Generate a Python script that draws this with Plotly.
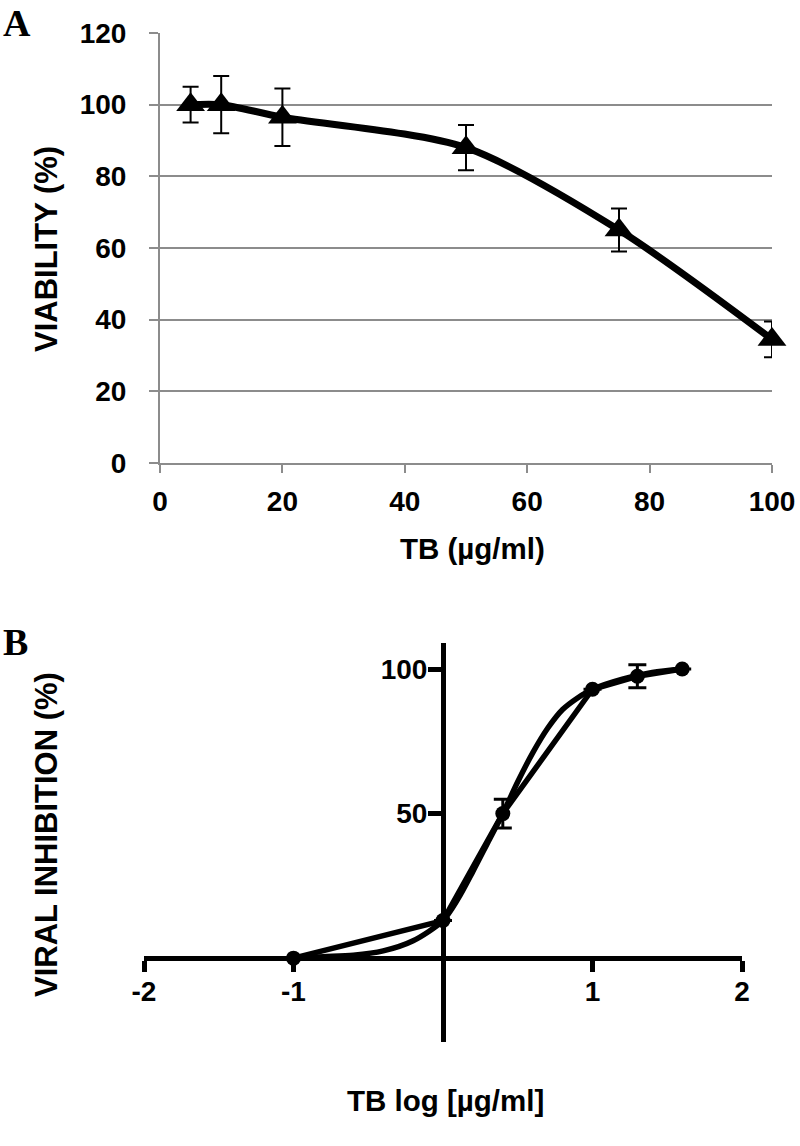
import plotly.graph_objects as go

# ---------------- data ----------------
# Panel A: viability vs TB concentration
conc_a = [5, 10, 20, 50, 75, 100]
viability = [100, 100, 96.5, 88, 65, 34.5]
viability_err = [5, 8, 8, 6.3, 6, 5]
a_xticks = [0, 20, 40, 60, 80, 100]
a_yticks = [0, 20, 40, 60, 80, 100, 120]

# Panel B: viral inhibition vs log TB
log_conc_b = [-1, 0, 0.4, 1.0, 1.3, 1.6]
inhibition = [0, 13, 50, 93, 97.5, 100]
inhibition_err = [0, 0, 5, 0, 4, 0]
# fitted sigmoid curve
fit_x = [-1, -0.8, -0.6, -0.4, -0.2, 0, 0.1, 0.2, 0.3, 0.4, 0.5, 0.6, 0.7, 0.8, 0.9, 1.0, 1.2, 1.4, 1.6]
fit_y = [0, 0.5, 1, 2.5, 6, 13, 20.5, 30, 40, 50, 61, 71, 79.5, 86, 90, 93, 96.5, 98.8, 100]
b_xticks = [-2, -1, 1, 2]
b_xticktext = ["-2", "-1", "1", "2"]
b_yticks = [50, 100]

W, H = 800, 1146
FONT = "Liberation Sans, Arial, sans-serif"
SERIF = "Liberation Serif, Times New Roman, serif"
GRAY = "#8c8c8c"


def px_x(p):
    return p / W


def px_y(p):
    return 1 - p / H


fig = go.Figure()

# Panel A
fig.add_trace(go.Scatter(
    x=conc_a, y=viability, mode="lines+markers",
    line=dict(color="black", width=7, shape="spline", smoothing=0.8),
    marker=dict(symbol="triangle-up", size=25, color="black"),
    error_y=dict(type="data", array=viability_err, visible=True,
                 color="black", thickness=2, width=8),
    cliponaxis=False, xaxis="x", yaxis="y", showlegend=False,
))

# Panel B: connecting line through data
fig.add_trace(go.Scatter(
    x=log_conc_b, y=inhibition, mode="lines+markers",
    line=dict(color="black", width=5.5),
    marker=dict(symbol="circle", size=15, color="black"),
    error_y=dict(type="data", array=inhibition_err, visible=True,
                 color="black", thickness=3, width=9),
    cliponaxis=False, xaxis="x2", yaxis="y2", showlegend=False,
))
# Panel B: fitted curve
fig.add_trace(go.Scatter(
    x=fit_x, y=fit_y, mode="lines",
    line=dict(color="black", width=5.5, shape="spline", smoothing=0.8),
    cliponaxis=False, xaxis="x2", yaxis="y2", showlegend=False,
))

tickfont = dict(family=FONT, size=28, color="black", weight="bold")

# B axis geometry
b_yrange = [-29, 109]
b_ydom = [px_y(1042), px_y(643)]
b_xdom = [px_x(144), px_x(742)]
b_xrange = [-2, 2]
x_at_zero = b_ydom[0] + (0 - b_yrange[0]) / (b_yrange[1] - b_yrange[0]) * (b_ydom[1] - b_ydom[0])
y_at_zero = b_xdom[0] + (0 - b_xrange[0]) / (b_xrange[1] - b_xrange[0]) * (b_xdom[1] - b_xdom[0])

fig.update_layout(
    width=W, height=H,
    margin=dict(l=0, r=0, t=0, b=0, autoexpand=False),
    paper_bgcolor="white", plot_bgcolor="white",
    showlegend=False,
    xaxis=dict(
        domain=[px_x(160), px_x(772)], range=[0, 100], anchor="y",
        tickvals=a_xticks, showgrid=False, zeroline=False, automargin=False,
        showline=True, linecolor=GRAY, linewidth=2,
        ticks="outside", ticklen=8, tickwidth=2, tickcolor=GRAY,
        tickfont=tickfont, ticklabelstandoff=4,
    ),
    yaxis=dict(
        domain=[px_y(463), px_y(33)], range=[0, 120], anchor="x",
        tickvals=a_yticks, showgrid=True, gridcolor=GRAY, gridwidth=2,
        zeroline=False, showline=True, linecolor=GRAY, linewidth=2, automargin=False,
        ticks="outside", ticklen=9, tickwidth=2, tickcolor=GRAY,
        tickfont=tickfont, ticklabelstandoff=17,
    ),
    xaxis2=dict(
        domain=b_xdom, range=b_xrange, anchor="free", position=x_at_zero,
        tickvals=b_xticks, ticktext=b_xticktext, showgrid=False, zeroline=False,
        showline=True, linecolor="black", linewidth=5, automargin=False,
        ticks="outside", ticklen=11, tickwidth=5, tickcolor="black",
        tickfont=tickfont, ticklabelstandoff=-5,
    ),
    yaxis2=dict(
        domain=b_ydom, range=b_yrange, anchor="free", position=y_at_zero,
        tickvals=b_yticks, showgrid=False, zeroline=False,
        showline=True, linecolor="black", linewidth=5, automargin=False,
        ticks="outside", ticklen=13, tickwidth=5, tickcolor="black",
        tickfont=tickfont, ticklabelstandoff=-5,
    ),
)

xtitlefont = dict(family=FONT, size=29.5, color="black", weight="bold")
ytitlefont = dict(family=FONT, size=31, color="black", weight="bold")
labelfont = dict(family=SERIF, size=38, color="black", weight="bold")
annotations = [
    dict(text="A", x=px_x(1), y=px_y(0), xanchor="left", yanchor="top", font=labelfont),
    dict(text="B", x=px_x(1), y=px_y(619), xanchor="left", yanchor="top", font=labelfont),
    dict(text="VIABILITY (%)", x=px_x(46), y=px_y(249), textangle=-90,
         xanchor="center", yanchor="middle", font=ytitlefont),
    dict(text="TB (µg/ml)", x=px_x(472), y=px_y(548),
         xanchor="center", yanchor="middle", font=xtitlefont),
    dict(text="VIRAL INHIBITION (%)", x=px_x(46), y=px_y(835), textangle=-90,
         xanchor="center", yanchor="middle", font=ytitlefont),
    dict(text="TB log [µg/ml]", x=px_x(445), y=px_y(1100),
         xanchor="center", yanchor="middle", font=xtitlefont),
]
for a in annotations:
    a.update(xref="paper", yref="paper", showarrow=False)
fig.update_layout(annotations=annotations)

fig.write_html(
    "out.html",
    config={"displayModeBar": False},
    post_script="document.body.style.margin='0';document.body.style.padding='0';",
)
